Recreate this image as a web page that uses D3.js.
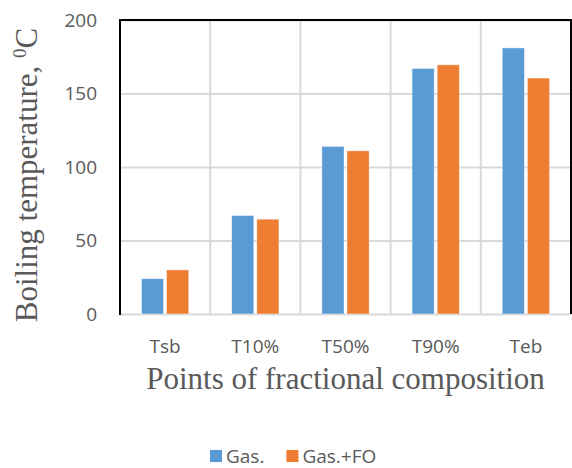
<!DOCTYPE html>
<html>
<head>
<meta charset="utf-8">
<script src="https://cdn.jsdelivr.net/npm/d3@7"></script>
<style>
  body { margin: 0; background: #fff; }
  .grid line { stroke: #d9d9d9; stroke-width: 2; }
  .grid .domain { display: none; }
  .axis .domain { display: none; }
  .axis text { font-family: "Open Sans", sans-serif; font-size: 19px; fill: #595959; }
</style>
</head>
<body>
<div id="wrapper"></div>
<script>
const categories = ["Tsb", "T10%", "T50%", "T90%", "Teb"]
const seriesNames = ["Gas.", "Gas.+FO"]
const gasValues = [24, 67, 114, 167, 181]
const gasFoValues = [30, 64.5, 111, 169.5, 160.5]
const yTicks = [0, 50, 100, 150, 200]
const colors = ["#5b9bd5", "#ed7d31"]

function drawBarChart() {
    let dimensions = {
        width: 572,
        height: 468,
        margin: { top: 20, right: 1, bottom: 154, left: 120 },
    }
    dimensions.boundedWidth = dimensions.width - dimensions.margin.left - dimensions.margin.right
    dimensions.boundedHeight = dimensions.height - dimensions.margin.top - dimensions.margin.bottom

    const wrapper = d3.select("#wrapper")
        .append("svg")
        .attr("width", dimensions.width)
        .attr("height", dimensions.height)

    const bounds = wrapper.append("g")
        .attr("transform", `translate(${dimensions.margin.left},${dimensions.margin.top})`)

    const yScale = d3.scaleLinear()
        .domain([0, 200])
        .range([dimensions.boundedHeight, 0])

    const xScale = d3.scaleBand()
        .domain(categories)
        .range([0, dimensions.boundedWidth])

    const bw = xScale.bandwidth()
    const innerScale = d3.scaleBand()
        .domain(seriesNames)
        .range([bw * 0.238, bw * 0.762])
        .paddingInner(0.12)

    // horizontal gridlines
    bounds.append("g")
        .attr("class", "grid")
        .call(d3.axisLeft(yScale)
            .tickValues(yTicks)
            .tickSize(-dimensions.boundedWidth)
            .tickFormat(""))

    // vertical gridlines between categories
    bounds.append("g")
        .attr("class", "grid")
        .selectAll("line")
        .data(categories.slice(1))
        .join("line")
        .attr("x1", d => xScale(d))
        .attr("x2", d => xScale(d))
        .attr("y1", 0)
        .attr("y2", dimensions.boundedHeight)

    // bars
    const rows = categories.map((c, i) => ({ cat: c, values: [gasValues[i], gasFoValues[i]] }))
    const groups = bounds.selectAll(".group")
        .data(rows)
        .join("g")
        .attr("class", "group")
        .attr("transform", d => `translate(${xScale(d.cat)},0)`)

    groups.selectAll("rect")
        .data(d => d.values.map((v, j) => ({ name: seriesNames[j], value: v, j })))
        .join("rect")
        .attr("x", d => innerScale(d.name))
        .attr("width", innerScale.bandwidth())
        .attr("y", d => yScale(d.value))
        .attr("height", d => dimensions.boundedHeight - yScale(d.value))
        .attr("fill", d => colors[d.j])
        .attr("stroke", "#fff")
        .attr("stroke-opacity", 0.5)
        .attr("stroke-width", 0.8)

    // border: left, top, right in black
    bounds.append("path")
        .attr("d", `M0,${dimensions.boundedHeight + 1}V0H${dimensions.boundedWidth}V${dimensions.boundedHeight}`)
        .attr("fill", "none")
        .attr("stroke", "#000")
        .attr("stroke-width", 2)

    bounds.append("g")
        .attr("class", "axis")
        .call(d3.axisLeft(yScale).tickValues(yTicks).tickSize(0).tickPadding(23))

    bounds.append("g")
        .attr("class", "axis")
        .attr("transform", `translate(0,${dimensions.boundedHeight})`)
        .call(d3.axisBottom(xScale).tickSize(0).tickPadding(26))

    // axis titles
    wrapper.append("text")
        .attr("x", dimensions.margin.left + dimensions.boundedWidth / 2)
        .attr("y", 389)
        .attr("text-anchor", "middle")
        .style("font-family", "'Liberation Serif', serif")
        .style("font-size", "31px")
        .style("fill", "#595959")
        .text("Points of fractional composition")

    const yTitle = wrapper.append("text")
        .attr("transform", "translate(37,175) rotate(-90)")
        .attr("text-anchor", "middle")
        .style("font-family", "'Liberation Serif', serif")
        .style("font-size", "31px")
        .style("fill", "#595959")
    yTitle.append("tspan").text("Boiling temperature, ")
    yTitle.append("tspan").attr("dy", -11).style("font-size", "19px").text("0")
    yTitle.append("tspan").attr("dy", 11).text("C")

    // legend
    const legend = wrapper.append("g")
    let lx = 210
    seriesNames.forEach((name, i) => {
        legend.append("rect")
            .attr("x", lx)
            .attr("y", 450)
            .attr("width", 12)
            .attr("height", 12)
            .attr("fill", colors[i])
        const t = legend.append("text")
            .attr("x", lx + 16)
            .attr("y", 463)
            .style("font-family", "'Open Sans', sans-serif")
            .style("font-size", "19px")
            .style("fill", "#595959")
            .text(name)
        lx += 16 + t.node().getComputedTextLength() + 22
    })
}

drawBarChart()
</script>
</body>
</html>
